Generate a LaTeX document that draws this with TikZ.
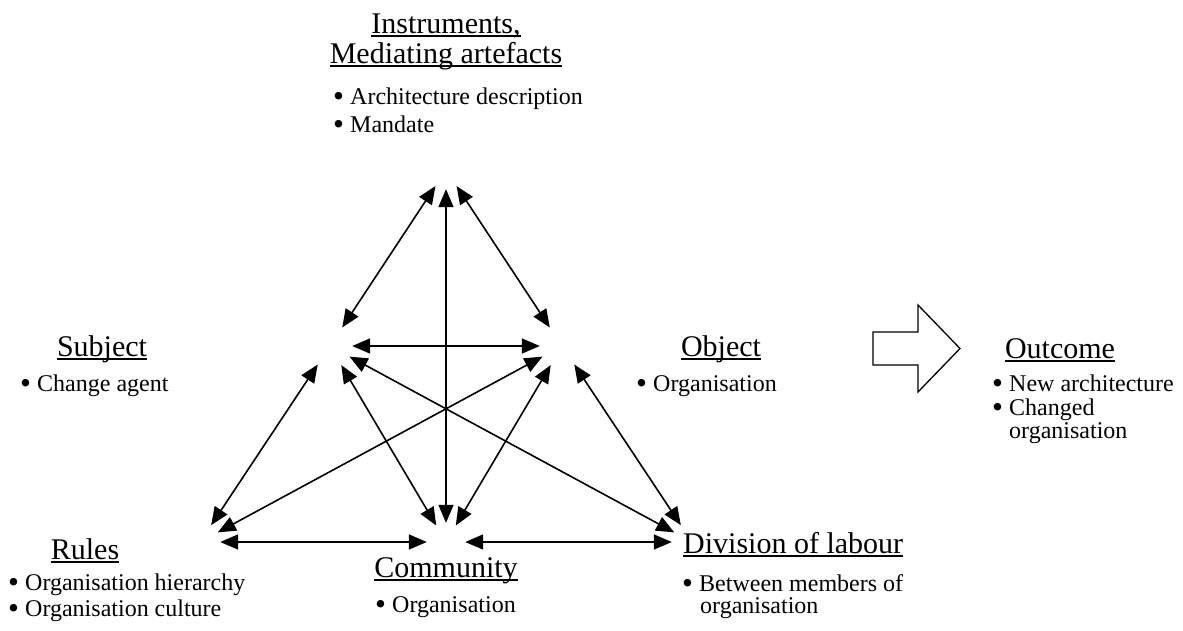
\documentclass[tikz,border=0pt]{standalone}
\usepackage{fontspec}
\setmainfont{Liberation Serif}
\usetikzlibrary{arrows.meta}
% underlined heading with the rule just below the baseline
\newcommand{\ulword}[1]{\setbox0=\hbox{#1}\rlap{\rule[-0.13em]{\wd0}{0.055em}}\box0}
% round bullet followed by a fixed gap
\newcommand{\bitem}[1]{\makebox[17pt][l]{\smash{\raisebox{-0.11em}{\scalebox{1.3}{\textbullet}}}}#1}
\begin{document}
\begin{tikzpicture}[x=1pt,y=-1pt,
  heading/.style={font=\fontsize{30}{34}\selectfont, inner sep=0pt, anchor=base},
  entry/.style={font=\fontsize{24}{28}\selectfont, inner sep=0pt, anchor=base west},
  vtx/.style={circle, inner sep=0pt, draw=none},
  link/.style={line width=1.6pt, {Triangle[length=18pt,width=15pt]}-{Triangle[length=18pt,width=15pt]}},
  bigarrow/.style={draw, line width=1.3pt, fill=white, line join=miter}]
\useasboundingbox (0,0) rectangle (1183,630);

% corners of the activity triangle
\node[vtx, minimum size=38pt] (A) at (446,170) {};
\node[vtx, minimum size=44pt] (S) at (330,346) {};
\node[vtx, minimum size=44pt] (O) at (562,346) {};
\node[vtx, minimum size=40pt] (R) at (200,542) {};
\node[vtx, minimum size=38pt] (C) at (446,542) {};
\node[vtx, minimum size=40pt] (D) at (692,542) {};

% mediating relations
\draw[link] (A) -- (S);
\draw[link] (A) -- (O);
\draw[link] (A) -- (C);
\draw[link] (S) -- (O);
\draw[link] (S) -- (R);
\draw[link] (S) -- (C);
\draw[link] (S) -- (D);
\draw[link] (O) -- (R);
\draw[link] (O) -- (C);
\draw[link] (O) -- (D);
\draw[link] (R) -- (C);
\draw[link] (C) -- (D);

% instruments
\node[heading] (instrT1) at (446,33) {\ulword{Instruments,}};
\node[heading] (instrT2) at (446,63) {\ulword{Mediating artefacts}};
\node[entry] (instrE1) at (333,104) {\bitem{Architecture description}};
\node[entry] (instrE2) at (333,132) {\bitem{Mandate}};

% subject
\node[heading] (subjT) at (102,356) {\ulword{Subject}};
\node[entry] (subjE1) at (20,391) {\bitem{Change agent}};

% object
\node[heading] (objT) at (721,356) {\ulword{Object}};
\node[entry] (objE1) at (636,391) {\bitem{Organisation}};

% outcome
\node[heading] (outT) at (1060,358) {\ulword{Outcome}};
\node[entry] (outE1) at (992,391) {\bitem{New architecture}};
\node[entry] (outE2) at (992,415) {\bitem{Changed}};
\node[entry] (outE3) at (1009,438) {organisation};

% rules
\node[heading] (rulT) at (85,559) {\ulword{Rules}};
\node[entry] (rulE1) at (8,590) {\bitem{Organisation hierarchy}};
\node[entry] (rulE2) at (8,616) {\bitem{Organisation culture}};

% community
\node[heading] (comT) at (446,577) {\ulword{Community}};
\node[entry] (comE1) at (375,612) {\bitem{Organisation}};

% division of labour
\node[heading, anchor=base west] (divT) at (683,553) {\ulword{Division of labour}};
\node[entry] (divE1) at (682,591) {\bitem{Between members of}};
\node[entry] (divE2) at (700,613) {organisation};

% transformation into outcome
\draw[bigarrow] (873,332) -- (918,332) -- (918,305) -- (960,348.5)
  -- (918,392) -- (918,365) -- (873,365) -- cycle;
\end{tikzpicture}
\end{document}
